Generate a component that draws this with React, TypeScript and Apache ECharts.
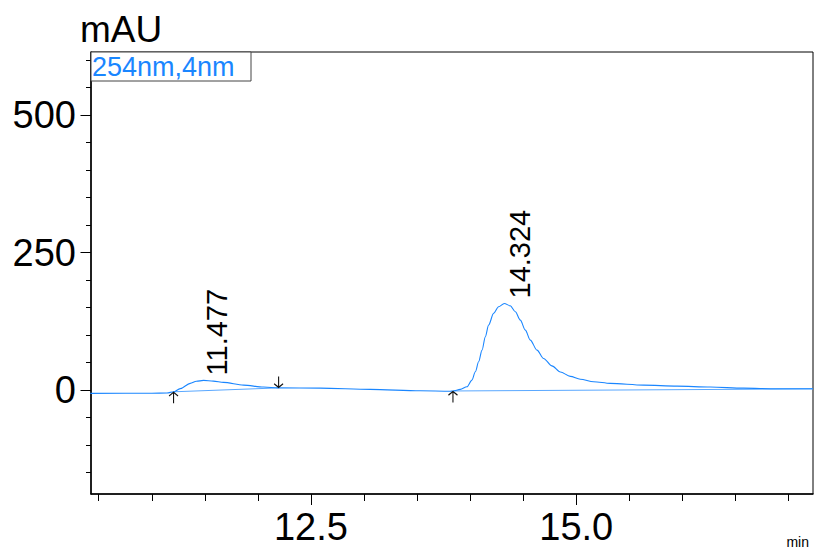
import React, { useEffect, useRef } from "react";
import * as echarts from "echarts";

// Chromatogram signal (retention time in min, absorbance in mAU)
const signalTime = [10.42, 11.0, 11.143, 11.205, 11.268, 11.362, 11.42, 11.488, 11.58, 11.676, 11.865, 12.053, 12.195, 12.588, 13.059, 13.53, 13.813, 13.838, 13.907, 13.97, 14.017, 14.049, 14.08, 14.112, 14.143, 14.174, 14.221, 14.268, 14.322, 14.378, 14.426, 14.473, 14.52, 14.567, 14.63, 14.692, 14.771, 14.85, 14.944, 15.038, 15.164, 15.321, 15.635, 15.95, 16.263, 16.577, 16.892, 17.231];
const signalMAU = [-6.0, -5.8, -5.2, -3.1, 2.7, 12.2, 16.0, 17.6, 16.4, 14.0, 9.1, 5.5, 4.0, 3.5, 1.3, -1.3, -2.0, -1.6, 1.3, 6.0, 18.2, 33.3, 51.5, 72.7, 96.9, 118.2, 139.5, 151.5, 157.6, 153.3, 142.4, 127.3, 109.1, 90.9, 72.7, 57.6, 44.0, 33.0, 25.0, 19.8, 15.3, 12.2, 9.1, 7.3, 5.5, 3.6, 2.4, 2.4];

// Integration baselines
const baseline1Time = [11.205, 12.195];
const baseline1MAU = [-3.1, 4.0];
const baseline2Time = [13.838, 17.231];
const baseline2MAU = [-1.6, 2.2];

// Integration markers
const markerTime = [11.205, 12.195, 13.838];
const markerMAU = [-3.1, 4.0, -1.6];
const markerDir = ["up", "down", "up"];

// Peak labels
const peakTime = [11.477, 14.324];
const peakMAU = [17.6, 157.6];
const peakLabel = ["11.477", "14.324"];

// Axes
const xMin = 10.427;
const xMax = 17.231;
const yMin = -189;
const yMax = 615;
const xMinorTicks = [10.5, 11.0, 11.5, 12.0, 12.5, 13.0, 13.5, 14.0, 14.5, 15.0, 15.5, 16.0, 16.5, 17.0];
const xMajorTicks = [12.5, 15.0];
const yMinorTicks = [-150, -100, -50, 0, 50, 100, 150, 200, 250, 300, 350, 400, 450, 500, 550, 600];
const yMajorTicks = [0, 250, 500];

const legendText = "254nm,4nm";
const yUnit = "mAU";
const xUnit = "min";

const BLUE = "#1a86ff";
const FONT = "'Liberation Sans', Arial, sans-serif";

const upArrow = "path://M5,0 L5,12 M1,4 L5,0 L9,4";
const downArrow = "path://M5,0 L5,12 M1,8 L5,12 L9,8";

export default function App() {
  const ref = useRef<HTMLDivElement>(null);
  useEffect(() => {
    document.body.style.margin = "0";
    if (!ref.current) return;
    const chart = echarts.init(ref.current, null, { renderer: "svg" });
    const signal = signalTime.map((t, i) => [t, signalMAU[i]]);
    const base1 = baseline1Time.map((t, i) => [t, baseline1MAU[i]]);
    const base2 = baseline2Time.map((t, i) => [t, baseline2MAU[i]]);
    const markers = markerTime.map((t, i) => ({
      value: [t, markerMAU[i]],
      symbol: markerDir[i] === "up" ? upArrow : downArrow,
      symbolOffset: markerDir[i] === "up" ? [0, 6] : [0, -6],
    }));
    const peaks = peakTime.map((t, i) => ({ value: [t, peakMAU[i]], name: peakLabel[i] }));

    chart.setOption({
      animation: false,
      textStyle: { fontFamily: FONT },
      grid: { left: 91, right: 1, top: 52, bottom: 57, show: true, borderColor: "#000", borderWidth: 1, containLabel: false },
      xAxis: [
        {
          type: "value", min: xMin, max: xMax, position: "bottom",
          axisLine: { show: true, onZero: false, lineStyle: { color: "#000", width: 1.5 } },
          axisTick: { show: true, length: 7, customValues: xMinorTicks, lineStyle: { color: "#000", width: 1 } },
          axisLabel: { show: false },
          splitLine: { show: false },
        },
        {
          type: "value", min: xMin, max: xMax, position: "bottom",
          axisLine: { show: false, onZero: false },
          axisTick: { show: true, length: 11, customValues: xMajorTicks, lineStyle: { color: "#000", width: 1 } },
          axisLabel: { show: true, customValues: xMajorTicks, formatter: (v: number) => v.toFixed(1), fontSize: 38, color: "#000", margin: 14, fontFamily: FONT },
          splitLine: { show: false },
        },
      ],
      yAxis: [
        {
          type: "value", min: yMin, max: yMax, position: "left",
          axisLine: { show: true, onZero: false, lineStyle: { color: "#000", width: 1.5 } },
          axisTick: { show: true, length: 5, customValues: yMinorTicks, lineStyle: { color: "#000", width: 1 } },
          axisLabel: { show: false },
          splitLine: { show: false },
        },
        {
          type: "value", min: yMin, max: yMax, position: "left",
          axisLine: { show: false, onZero: false },
          axisTick: { show: true, length: 10.5, customValues: yMajorTicks, lineStyle: { color: "#000", width: 1 } },
          axisLabel: { show: true, customValues: yMajorTicks, fontSize: 38, color: "#000", margin: 15, fontFamily: FONT },
          splitLine: { show: false },
        },
      ],
      series: [
        {
          type: "line", data: signal, showSymbol: false, smooth: 0.3, smoothMonotone: "x",
          lineStyle: { color: BLUE, width: 1.1 }, z: 3, xAxisIndex: 0, yAxisIndex: 0,
        },
        {
          type: "line", data: base1, showSymbol: false,
          lineStyle: { color: "#5aa8ff", width: 1 }, z: 2, xAxisIndex: 0, yAxisIndex: 0,
        },
        {
          type: "line", data: base2, showSymbol: false,
          lineStyle: { color: "#5aa8ff", width: 1 }, z: 2, xAxisIndex: 0, yAxisIndex: 0,
        },
        {
          type: "scatter", data: markers, symbolSize: [9, 11], z: 4,
          itemStyle: { color: "rgba(0,0,0,0)", borderColor: "#111", borderWidth: 1.2, opacity: 1 },
          xAxisIndex: 0, yAxisIndex: 0,
        },
        {
          type: "scatter", data: peaks, symbolSize: 0, z: 5,
          itemStyle: { color: "rgba(0,0,0,0)", opacity: 1 },
          label: {
            show: true, formatter: (p: any) => p.name, rotate: 90, position: "top", distance: 5,
            align: "left", verticalAlign: "middle", offset: [0, 15],
            fontSize: 29, color: "#000", opacity: 1, fontFamily: FONT,
          },
          xAxisIndex: 0, yAxisIndex: 0,
        },
      ],
      graphic: [
        { type: "text", left: 80, top: 11, style: { text: yUnit, font: `37px ${FONT}`, fill: "#000" } },
        { type: "rect", shape: { x: 91, y: 52, width: 160, height: 29 }, style: { fill: "#fff", stroke: "#444", lineWidth: 1 }, z: 10 },
        { type: "text", x: 92, y: 53, style: { text: legendText, font: `27px ${FONT}`, fill: BLUE }, z: 11 },
        { type: "text", right: 5, top: 535, style: { text: xUnit, font: `14px ${FONT}`, fill: "#000" } },
      ],
    });
    return () => chart.dispose();
  }, []);
  return <div ref={ref} style={{ width: 814, height: 551 }} />;
}
